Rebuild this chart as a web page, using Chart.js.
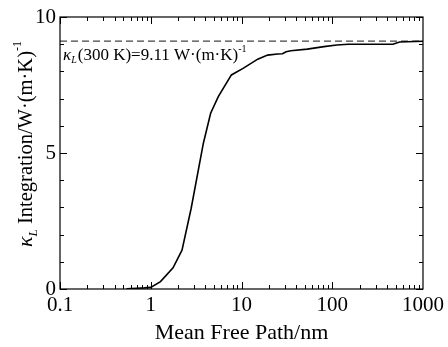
<!DOCTYPE html>
<html>
<head>
<meta charset="utf-8">
<script src="https://cdn.jsdelivr.net/npm/chart.js@4"></script>
<style>
  html, body { margin: 0; padding: 0; background: #fff; }
  #wrap { width: 448px; height: 347px; }
</style>
</head>
<body>
<div id="wrap"><canvas id="chart"></canvas></div>
<script>
// mean free path (nm) and cumulative kappa_L (W/(m K))
const mfp = [0.54, 0.7, 0.85, 1.0, 1.28, 1.76, 2.21, 2.79, 3.8, 4.57, 5.55, 7.74, 10.4, 15.1, 19.4, 25, 28.3, 31, 35, 53, 81, 112, 150, 300, 466, 552, 1000];
const kappa = [0.01, 0.03, 0.04, 0.06, 0.27, 0.78, 1.43, 2.97, 5.36, 6.46, 7.07, 7.87, 8.11, 8.45, 8.6, 8.64, 8.65, 8.72, 8.76, 8.82, 8.91, 8.97, 9.0, 9.0, 9.0, 9.08, 9.11];
const kappa300 = 9.11;
const xTicks = [0.1, 1, 10, 100, 1000];
const yTicks = [0, 5, 10];

const FONT = "'Liberation Serif', 'Times New Roman', serif";

// box, inward ticks, rich-text labels
const framePlugin = {
  id: "frame",
  afterDraw(chart) {
    const ctx = chart.ctx;
    const a = chart.chartArea;
    const xs = chart.scales.x;
    const ys = chart.scales.y;
    ctx.save();
    ctx.strokeStyle = "#000";
    ctx.lineWidth = 1.2;
    ctx.strokeRect(a.left, a.top, a.right - a.left, a.bottom - a.top);

    ctx.lineWidth = 1;
    ctx.beginPath();
    for (let d = 0.1; d < 999; d *= 10) {
      for (let k = 1; k <= 9; k++) {
        const px = Math.round(xs.getPixelForValue(d * k)) + 0.5;
        const len = k === 1 ? 7 : 4;
        ctx.moveTo(px, a.bottom); ctx.lineTo(px, a.bottom - len);
        ctx.moveTo(px, a.top); ctx.lineTo(px, a.top + len);
      }
    }
    for (let v = 0; v <= 10; v++) {
      const py = Math.round(ys.getPixelForValue(v)) + 0.5;
      const len = v % 5 === 0 ? 7 : 4;
      ctx.moveTo(a.left, py); ctx.lineTo(a.left + len, py);
      ctx.moveTo(a.right, py); ctx.lineTo(a.right - len, py);
    }
    ctx.stroke();

    // annotation text
    let x = xs.getPixelForValue(0.1) + 3;
    const y = ys.getPixelForValue(kappa300) + 19;
    ctx.fillStyle = "#000";
    ctx.textBaseline = "alphabetic";
    ctx.textAlign = "left";
    ctx.font = "italic 17px " + FONT;
    ctx.fillText("κ", x, y); x += ctx.measureText("κ").width;
    ctx.font = "italic 10px " + FONT;
    ctx.fillText("L", x, y + 3); x += ctx.measureText("L").width + 1;
    ctx.font = "17px " + FONT;
    const t1 = "(300 K)=9.11 W·(m·K)";
    ctx.fillText(t1, x, y); x += ctx.measureText(t1).width;
    ctx.font = "10px " + FONT;
    ctx.fillText("-1", x, y - 8);

    // y axis title, rotated
    ctx.translate(32, 144);
    ctx.rotate(-Math.PI / 2);
    const parts = [
      ["italic 22px " + FONT, "κ", 0],
      ["italic 13px " + FONT, "L", 5],
      ["20.5px " + FONT, " Integration/W·(m·K)", 0],
      ["12px " + FONT, "-1", -11]
    ];
    let w = 0;
    parts.forEach(p => { ctx.font = p[0]; w += ctx.measureText(p[1]).width; });
    let cx = -w / 2;
    parts.forEach(p => {
      ctx.font = p[0];
      ctx.fillText(p[1], cx, p[2]);
      cx += ctx.measureText(p[1]).width;
    });
    ctx.restore();
  }
};

new Chart(document.getElementById("chart"), {
  type: "line",
  data: {
    datasets: [
      {
        data: mfp.map((v, i) => ({ x: v, y: kappa[i] })),
        borderColor: "#000",
        borderWidth: 1.6,
        pointRadius: 0,
        tension: 0,
        fill: false
      },
      {
        data: [{ x: xTicks[0], y: kappa300 }, { x: xTicks[xTicks.length - 1], y: kappa300 }],
        borderColor: "#444",
        borderWidth: 1.2,
        borderDash: [7, 4],
        pointRadius: 0,
        fill: false
      }
    ]
  },
  options: {
    responsive: true,
    maintainAspectRatio: false,
    animation: false,
    layout: { padding: { left: 0, right: 21, top: 17, bottom: 0 } },
    plugins: { legend: { display: false }, tooltip: { enabled: false } },
    scales: {
      x: {
        type: "logarithmic",
        min: 0.1,
        max: 1000,
        grid: { display: false, drawTicks: false },
        border: { display: false },
        afterBuildTicks: (s) => { s.ticks = xTicks.map(v => ({ value: v })); },
        afterFit: (s) => { s.height = 58; },
        ticks: {
          color: "#000",
          padding: 4,
          maxRotation: 0,
          autoSkip: false,
          font: { family: FONT, size: 21 },
          callback: (v) => String(v)
        },
        title: {
          display: true,
          text: "Mean Free Path/nm",
          color: "#000",
          font: { family: FONT, size: 22 },
          padding: { top: 0, bottom: 1 }
        }
      },
      y: {
        min: 0,
        max: 10,
        grid: { display: false, drawTicks: false },
        border: { display: false },
        afterBuildTicks: (s) => { s.ticks = yTicks.map(v => ({ value: v })); },
        afterFit: (s) => { s.width = 60; },
        ticks: {
          color: "#000",
          padding: 4,
          font: { family: FONT, size: 21 }
        }
      }
    }
  },
  plugins: [framePlugin]
});
</script>
</body>
</html>
